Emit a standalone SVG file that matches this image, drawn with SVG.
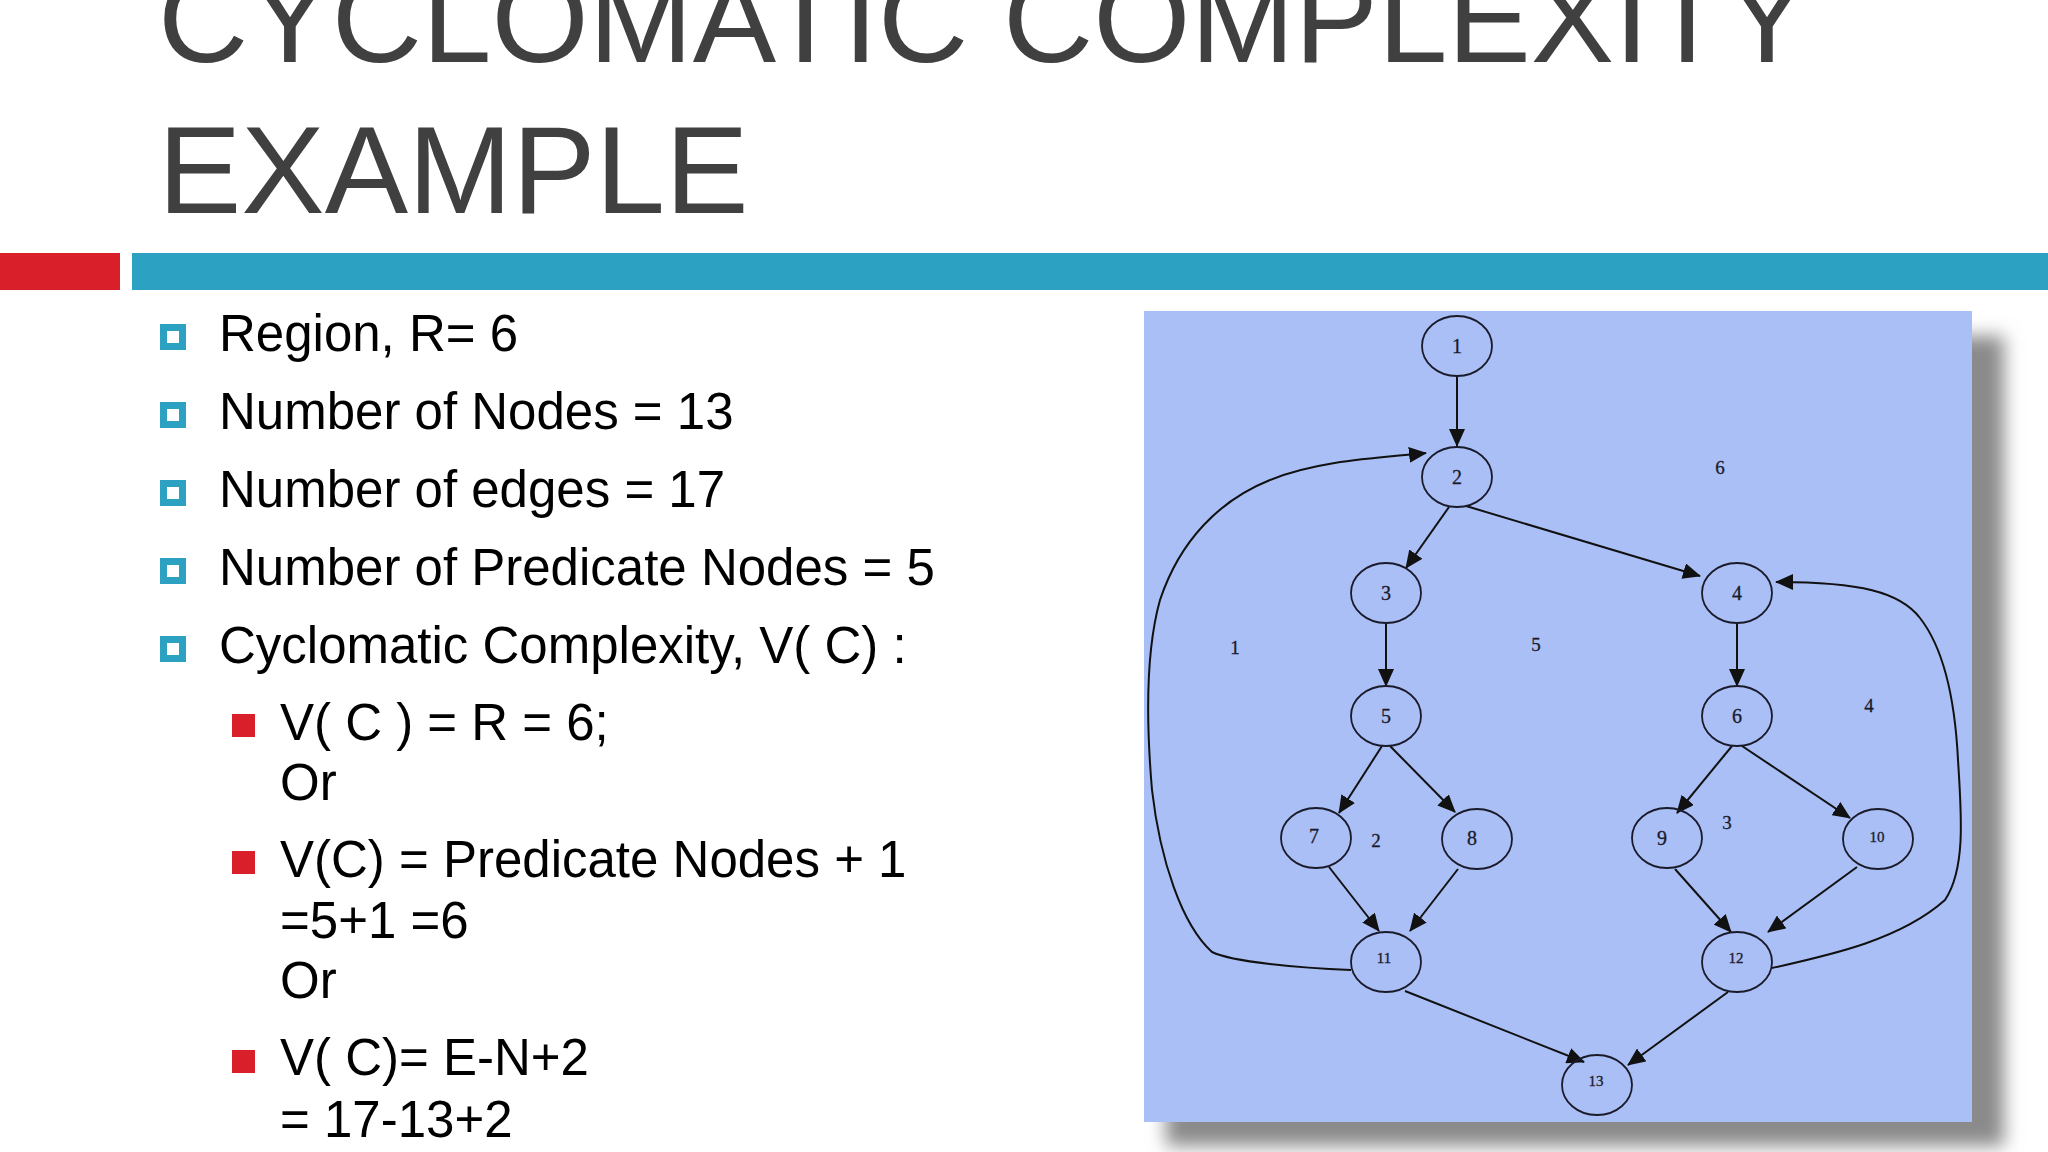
<svg xmlns="http://www.w3.org/2000/svg" width="2048" height="1152" viewBox="0 0 2048 1152">
<defs>
<style>
.title{font-family:"Liberation Sans",Arial,sans-serif;font-size:125px;fill:#404040}
.body{font-family:"Liberation Sans",Arial,sans-serif;font-size:51px;fill:#000}
.nd ellipse{fill:none;stroke:#1a1a2a;stroke-width:1.8}
.nd text{font-family:"Liberation Serif","Times New Roman",serif;font-size:20px;fill:#1a1a2a;text-anchor:middle;stroke:#1a1a2a;stroke-width:0.3}
.nd text.s{font-size:15px}
.rg{font-family:"Liberation Serif","Times New Roman",serif;font-size:19px;fill:#1a1a2a;text-anchor:middle;stroke:#1a1a2a;stroke-width:0.3}
.edges path{fill:none;stroke:#111;stroke-width:2;marker-end:url(#ah)}
.b1{fill:#2CA1C1}
.b2{fill:#D9202A}
</style>
<marker id="ah" viewBox="0 0 18 16" refX="17" refY="8" markerWidth="18" markerHeight="16" markerUnits="userSpaceOnUse" orient="auto">
<path d="M0,0 L18,8 L0,16 z" fill="#111"/>
</marker>
<filter id="blur" x="-10%" y="-10%" width="120%" height="120%">
<feGaussianBlur stdDeviation="9"/>
</filter>
</defs>
<rect width="2048" height="1152" fill="#fff"/>
<g id="title">
<text class="title" x="158" y="62">CYCLOMATIC COMPLEXITY</text>
<text class="title" x="158" y="213">EXAMPLE</text>
</g>
<g id="bars">
<rect x="0" y="253" width="120" height="37" fill="#D9202A"/>
<rect x="132" y="253" width="1916" height="37" fill="#2CA1C1"/>
</g>
<g id="bullets">
<path class="b1" fill-rule="evenodd" d="M160,324h26v26h-26z M167,331v12h12v-12z"/>
<text class="body" x="219" y="351">Region, R= 6</text>
<path class="b1" fill-rule="evenodd" d="M160,402h26v26h-26z M167,409v12h12v-12z"/>
<text class="body" x="219" y="429">Number of Nodes = 13</text>
<path class="b1" fill-rule="evenodd" d="M160,480h26v26h-26z M167,487v12h12v-12z"/>
<text class="body" x="219" y="507">Number of edges = 17</text>
<path class="b1" fill-rule="evenodd" d="M160,558h26v26h-26z M167,565v12h12v-12z"/>
<text class="body" x="219" y="585">Number of Predicate Nodes = 5</text>
<path class="b1" fill-rule="evenodd" d="M160,636h26v26h-26z M167,643v12h12v-12z"/>
<text class="body" x="219" y="663">Cyclomatic Complexity, V( C) :</text>
<rect class="b2" x="232" y="714" width="23" height="23"/>
<text class="body" x="280" y="740">V( C ) = R = 6;</text>
<text class="body" x="280" y="800">Or</text>
<rect class="b2" x="232" y="851" width="23" height="23"/>
<text class="body" x="280" y="877">V(C) = Predicate Nodes + 1</text>
<text class="body" x="280" y="938">=5+1 =6</text>
<text class="body" x="280" y="998">Or</text>
<rect class="b2" x="232" y="1050" width="23" height="23"/>
<text class="body" x="280" y="1075">V( C)= E-N+2</text>
<text class="body" x="280" y="1137">= 17-13+2</text>
</g>
<g id="panel">
<rect x="1166" y="336" width="838" height="810" fill="#8a8a8a" filter="url(#blur)"/>
<rect x="1144" y="311" width="828" height="811" fill="#A9BFF6"/>
</g>
<g class="rg" id="regions">
<text class="rg" x="1720" y="474">6</text>
<text class="rg" x="1235" y="654">1</text>
<text class="rg" x="1536" y="651">5</text>
<text class="rg" x="1869" y="712">4</text>
<text class="rg" x="1727" y="829">3</text>
<text class="rg" x="1376" y="847">2</text>
</g>
<g class="edges" id="connectors">
<path d="M1457,376 L1457,446"/>
<path d="M1449,507 L1406,568"/>
<path d="M1466,506 L1700,576"/>
<path d="M1386,623 L1386,686"/>
<path d="M1737,623 L1737,686"/>
<path d="M1382,746 L1339,813"/>
<path d="M1390,746 L1455,812"/>
<path d="M1329,867 L1379,931"/>
<path d="M1458,869 L1410,931"/>
<path d="M1732,746 L1677,813"/>
<path d="M1742,746 L1850,818"/>
<path d="M1675,869 L1731,932"/>
<path d="M1857,867 L1768,932"/>
<path d="M1405,991 L1584,1062"/>
<path d="M1728,992 L1628,1065"/>
<path d="M1351,970 C1300,968 1232,962 1212,952 C1182,925 1160,860 1152,790 C1146,720 1146,650 1160,600 C1180,540 1220,500 1270,480 C1320,460 1380,458 1426,453"/>
<path d="M1772,968 C1830,955 1900,940 1945,900 C1965,870 1962,820 1958,760 C1955,700 1945,650 1920,618 C1900,592 1860,582 1776,582"/>
</g>
<g class="nd" id="n1"><ellipse cx="1457" cy="346" rx="35" ry="30"/><text x="1457" y="353">1</text></g>
<g class="nd" id="n2"><ellipse cx="1457" cy="477" rx="35" ry="30"/><text x="1457" y="484">2</text></g>
<g class="nd" id="n3"><ellipse cx="1386" cy="593" rx="35" ry="30"/><text x="1386" y="600">3</text></g>
<g class="nd" id="n4"><ellipse cx="1737" cy="593" rx="35" ry="30"/><text x="1737" y="600">4</text></g>
<g class="nd" id="n5"><ellipse cx="1386" cy="716" rx="35" ry="30"/><text x="1386" y="723">5</text></g>
<g class="nd" id="n6"><ellipse cx="1737" cy="716" rx="35" ry="30"/><text x="1737" y="723">6</text></g>
<g class="nd" id="n7"><ellipse cx="1316" cy="838" rx="35" ry="30"/><text x="1314" y="843">7</text></g>
<g class="nd" id="n8"><ellipse cx="1477" cy="839" rx="35" ry="30"/><text x="1472" y="845">8</text></g>
<g class="nd" id="n9"><ellipse cx="1667" cy="838" rx="35" ry="30"/><text x="1662" y="845">9</text></g>
<g class="nd" id="n10"><ellipse cx="1878" cy="839" rx="35" ry="30"/><text class="s" x="1877" y="842">10</text></g>
<g class="nd" id="n11"><ellipse cx="1386" cy="962" rx="35" ry="30"/><text class="s" x="1384" y="963">11</text></g>
<g class="nd" id="n12"><ellipse cx="1737" cy="962" rx="35" ry="30"/><text class="s" x="1736" y="963">12</text></g>
<g class="nd" id="n13"><ellipse cx="1597" cy="1085" rx="35" ry="30"/><text class="s" x="1596" y="1086">13</text></g>
</svg>
